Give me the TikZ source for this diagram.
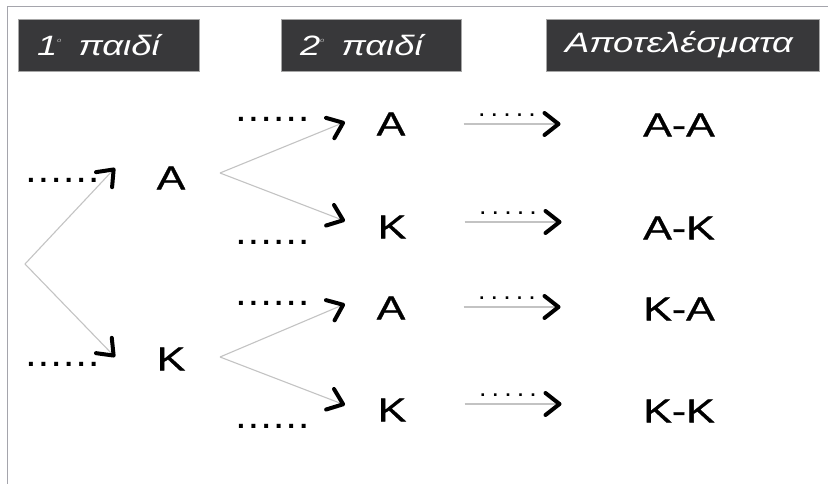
\documentclass[tikz,border=0pt]{standalone}
\usepackage{fontspec}
\setmainfont[FakeStretch=1.3]{Liberation Sans}
\newfontfamily\letterfont[FakeStretch=1.3,FakeBold=1]{Liberation Sans}
\newfontfamily\blankfont[LetterSpace=17]{Liberation Sans}
\newfontfamily\smallblankfont[LetterSpace=42]{Liberation Sans}
\usetikzlibrary{arrows.meta}
\definecolor{headgray}{RGB}{56,56,58}
\definecolor{branchgray}{RGB}{195,195,195}
\definecolor{framegray}{RGB}{165,165,172}
\newcommand{\ordmark}{\raisebox{13pt}{\fontsize{6}{6}\selectfont\color{gray!60}ο}}

\begin{document}
\begin{tikzpicture}[
  x=1pt, y=-1pt,
  every node/.style={inner sep=0pt},
  headbox/.style={
    fill=headgray, draw=gray!70, line width=0.6pt,
    text=white, font=\fontsize{28}{32}\selectfont\itshape,
    inner xsep=19pt, minimum height=52pt, align=left
  },
  letter/.style={font=\letterfont\fontsize{33}{37}\selectfont},
  blank/.style={font=\blankfont\bfseries\fontsize{28}{32}\selectfont, anchor=base west},
  smallblank/.style={font=\smallblankfont\bfseries\fontsize{18}{22}\selectfont,
    midway, above=7pt, xshift=-5pt},
  branch/.style={draw=branchgray, line width=1.1pt,
    -{Straight Barb[length=14pt, width=22pt, line width'=4pt, color=black, round]}}
]
  \useasboundingbox (0,0) rectangle (828,484);

  % Πλαίσιο (πάνω και αριστερά)
  \draw[framegray, line width=1pt] (7,484) -- (7,7) -- (828,7);

  % Επικεφαλίδες
  \node[headbox, text width=143pt] (head1) at (108.5,45) {1\ordmark\hspace{17pt}παιδί};
  \node[headbox, text width=142pt] (head2) at (371,45) {2\ordmark\hspace{17pt}παιδί};
  \node[headbox, text width=235pt] (head3) at (682.5,45) {Αποτελέσματα};

  % Πρώτο παιδί
  \coordinate (root) at (25,264);
  \node[letter] (a1) at (171,178) {Α};
  \node[letter] (k1) at (171,359) {Κ};
  \coordinate (a1tip) at (115,168);
  \coordinate (k1tip) at (115,357);
  \node[blank] (a1dots) at (27,183) {......};
  \node[blank] (k1dots) at (27,366) {......};
  \draw[branch] (root) -- (a1tip);
  \draw[branch] (root) -- (k1tip);

  % Δεύτερο παιδί
  \coordinate (afork) at (220,173);
  \coordinate (kfork) at (220,357);
  \node[letter] (aa) at (391,124) {Α};
  \node[letter] (ak) at (392,227) {Κ};
  \node[letter] (ka) at (391,308) {Α};
  \node[letter] (kk) at (392,410) {Κ};
  \coordinate (aatip) at (345,122);
  \coordinate (aktip) at (345,221);
  \coordinate (katip) at (345,304);
  \coordinate (kktip) at (345,405);
  \node[blank] (aadots) at (237,122) {......};
  \node[blank] (akdots) at (237,244) {......};
  \node[blank] (kadots) at (237,305) {......};
  \node[blank] (kkdots) at (237,428) {......};
  \draw[branch] (afork) -- (aatip);
  \draw[branch] (afork) -- (aktip);
  \draw[branch] (kfork) -- (katip);
  \draw[branch] (kfork) -- (kktip);

  % Αποτελέσματα
  \node[letter] (raa) at (679,125) {Α-Α};
  \node[letter] (rak) at (679,228) {Α-Κ};
  \node[letter] (rka) at (679,309) {Κ-Α};
  \node[letter] (rkk) at (679,411) {Κ-Κ};
  \draw[branch] ([xshift=58pt]aa.east) -- ++(97,0) node[smallblank] {.....};
  \draw[branch] ([xshift=58pt, yshift=5pt]ak.east) -- ++(97,0) node[smallblank] {.....};
  \draw[branch] ([xshift=58pt, yshift=1pt]ka.east) -- ++(97,0) node[smallblank] {.....};
  \draw[branch] ([xshift=58pt, yshift=6pt]kk.east) -- ++(97,0) node[smallblank] {.....};
\end{tikzpicture}
\end{document}
